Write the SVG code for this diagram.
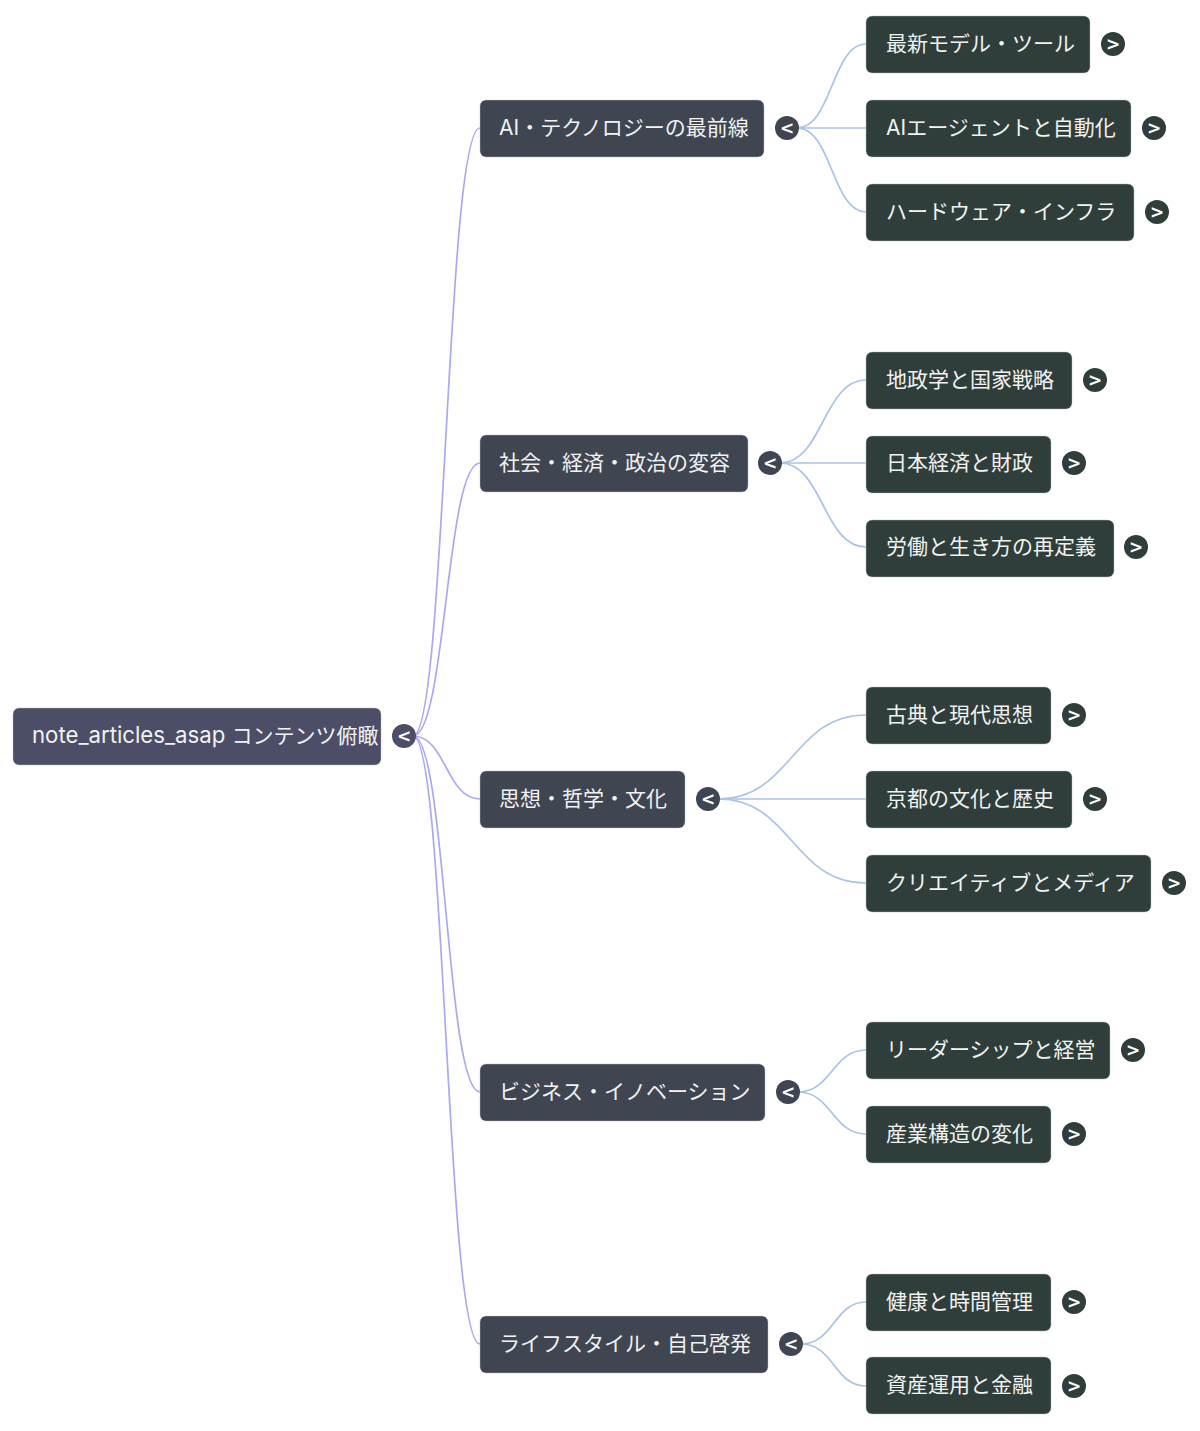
<svg xmlns="http://www.w3.org/2000/svg" width="1200" height="1431" viewBox="0 0 1200 1431">
<style>
.n rect{stroke:#b8bcc4;stroke-opacity:.45;stroke-width:1}
.r rect{fill:#4b4e66}
.l1 rect{fill:#3f4651}
.l2 rect{fill:#303e3b}
.t{font-family:"Inter","Noto Sans CJK JP",sans-serif;font-size:21px;fill:#f2f2f2}
.b{font-family:"DejaVu Sans","Liberation Sans",sans-serif;font-size:17px;font-weight:bold;fill:#ffffff;text-anchor:middle}
.e0{fill:none;stroke:#a9a9f2;stroke-width:1.7}
.e1{fill:none;stroke:#a9c2e8;stroke-width:1.7}
</style>
<rect width="1200" height="1431" fill="#ffffff"/>
<g id="connectors">
<path class="e0" d="M413,736 C446,736 446,128 480,128"/>
<path class="e0" d="M413,736 C446,736 446,463 480,463"/>
<path class="e0" d="M413,736 C446,736 446,799 480,799"/>
<path class="e0" d="M413,736 C446,736 446,1092 480,1092"/>
<path class="e0" d="M413,736 C446,736 446,1344 480,1344"/>
<path class="e1" d="M797,128 C832,128 832,44 866,44"/>
<path class="e1" d="M797,128 L866,128"/>
<path class="e1" d="M797,128 C832,128 832,212 866,212"/>
<path class="e1" d="M780,463 C823,463 823,380 866,380"/>
<path class="e1" d="M780,463 L866,463"/>
<path class="e1" d="M780,463 C823,463 823,547 866,547"/>
<path class="e1" d="M718,799 C792,799 792,715 866,715"/>
<path class="e1" d="M718,799 L866,799"/>
<path class="e1" d="M718,799 C792,799 792,883 866,883"/>
<path class="e1" d="M798,1092 C832,1092 832,1050 866,1050"/>
<path class="e1" d="M798,1092 C832,1092 832,1134 866,1134"/>
<path class="e1" d="M801,1344 C834,1344 834,1302 866,1302"/>
<path class="e1" d="M801,1344 C834,1344 834,1386 866,1386"/>
</g>
<g id="root" class="n r">
<rect x="13" y="708" width="368" height="57" rx="6"/>
<text class="t" x="32" y="743"><tspan style="font-size:22.2px">note_articles_asap </tspan>コンテンツ俯瞰</text>
<circle cx="404" cy="736" r="12" fill="#4b4e66"/><text class="b" x="404" y="742">&lt;</text>
</g>
<g id="n1" class="n l1">
<rect x="480" y="100" width="284" height="57" rx="6"/>
<text class="t" x="499" y="135">AI・テクノロジーの最前線</text>
<circle cx="787" cy="128" r="12" fill="#3f4651"/><text class="b" x="787" y="134">&lt;</text>
</g>
<g id="n2" class="n l1">
<rect x="480" y="435" width="268" height="57" rx="6"/>
<text class="t" x="499" y="470">社会・経済・政治の変容</text>
<circle cx="770" cy="463" r="12" fill="#3f4651"/><text class="b" x="770" y="469">&lt;</text>
</g>
<g id="n3" class="n l1">
<rect x="480" y="771" width="205" height="57" rx="6"/>
<text class="t" x="499" y="806">思想・哲学・文化</text>
<circle cx="708" cy="799" r="12" fill="#3f4651"/><text class="b" x="708" y="805">&lt;</text>
</g>
<g id="n4" class="n l1">
<rect x="480" y="1064" width="285" height="57" rx="6"/>
<text class="t" x="499" y="1099">ビジネス・イノベーション</text>
<circle cx="788" cy="1092" r="12" fill="#3f4651"/><text class="b" x="788" y="1098">&lt;</text>
</g>
<g id="n5" class="n l1">
<rect x="480" y="1316" width="288" height="57" rx="6"/>
<text class="t" x="499" y="1351">ライフスタイル・自己啓発</text>
<circle cx="791" cy="1344" r="12" fill="#3f4651"/><text class="b" x="791" y="1350">&lt;</text>
</g>
<g id="n1a" class="n l2">
<rect x="866" y="16" width="224" height="57" rx="6"/>
<text class="t" x="886" y="51">最新モデル・ツール</text>
<circle cx="1113" cy="44" r="12" fill="#303e3b"/><text class="b" x="1113" y="50">&gt;</text>
</g>
<g id="n1b" class="n l2">
<rect x="866" y="100" width="265" height="57" rx="6"/>
<text class="t" x="886" y="135">AIエージェントと自動化</text>
<circle cx="1154" cy="128" r="12" fill="#303e3b"/><text class="b" x="1154" y="134">&gt;</text>
</g>
<g id="n1c" class="n l2">
<rect x="866" y="184" width="268" height="57" rx="6"/>
<text class="t" x="886" y="219">ハードウェア・インフラ</text>
<circle cx="1157" cy="212" r="12" fill="#303e3b"/><text class="b" x="1157" y="218">&gt;</text>
</g>
<g id="n2a" class="n l2">
<rect x="866" y="352" width="206" height="57" rx="6"/>
<text class="t" x="886" y="387">地政学と国家戦略</text>
<circle cx="1095" cy="380" r="12" fill="#303e3b"/><text class="b" x="1095" y="386">&gt;</text>
</g>
<g id="n2b" class="n l2">
<rect x="866" y="436" width="185" height="57" rx="6"/>
<text class="t" x="886" y="470">日本経済と財政</text>
<circle cx="1074" cy="463" r="12" fill="#303e3b"/><text class="b" x="1074" y="469">&gt;</text>
</g>
<g id="n2c" class="n l2">
<rect x="866" y="520" width="248" height="57" rx="6"/>
<text class="t" x="886" y="554">労働と生き方の再定義</text>
<circle cx="1136" cy="547" r="12" fill="#303e3b"/><text class="b" x="1136" y="553">&gt;</text>
</g>
<g id="n3a" class="n l2">
<rect x="866" y="687" width="185" height="57" rx="6"/>
<text class="t" x="886" y="722">古典と現代思想</text>
<circle cx="1074" cy="715" r="12" fill="#303e3b"/><text class="b" x="1074" y="721">&gt;</text>
</g>
<g id="n3b" class="n l2">
<rect x="866" y="771" width="206" height="57" rx="6"/>
<text class="t" x="886" y="806">京都の文化と歴史</text>
<circle cx="1095" cy="799" r="12" fill="#303e3b"/><text class="b" x="1095" y="805">&gt;</text>
</g>
<g id="n3c" class="n l2">
<rect x="866" y="855" width="285" height="57" rx="6"/>
<text class="t" x="886" y="890">クリエイティブとメディア</text>
<circle cx="1174" cy="883" r="12" fill="#303e3b"/><text class="b" x="1174" y="889">&gt;</text>
</g>
<g id="n4a" class="n l2">
<rect x="866" y="1022" width="244" height="57" rx="6"/>
<text class="t" x="886" y="1057">リーダーシップと経営</text>
<circle cx="1133" cy="1050" r="12" fill="#303e3b"/><text class="b" x="1133" y="1056">&gt;</text>
</g>
<g id="n4b" class="n l2">
<rect x="866" y="1106" width="185" height="57" rx="6"/>
<text class="t" x="886" y="1141">産業構造の変化</text>
<circle cx="1074" cy="1134" r="12" fill="#303e3b"/><text class="b" x="1074" y="1140">&gt;</text>
</g>
<g id="n5a" class="n l2">
<rect x="866" y="1274" width="185" height="57" rx="6"/>
<text class="t" x="886" y="1309">健康と時間管理</text>
<circle cx="1074" cy="1302" r="12" fill="#303e3b"/><text class="b" x="1074" y="1308">&gt;</text>
</g>
<g id="n5b" class="n l2">
<rect x="866" y="1357" width="185" height="57" rx="6"/>
<text class="t" x="886" y="1392">資産運用と金融</text>
<circle cx="1074" cy="1386" r="12" fill="#303e3b"/><text class="b" x="1074" y="1392">&gt;</text>
</g>
</svg>
